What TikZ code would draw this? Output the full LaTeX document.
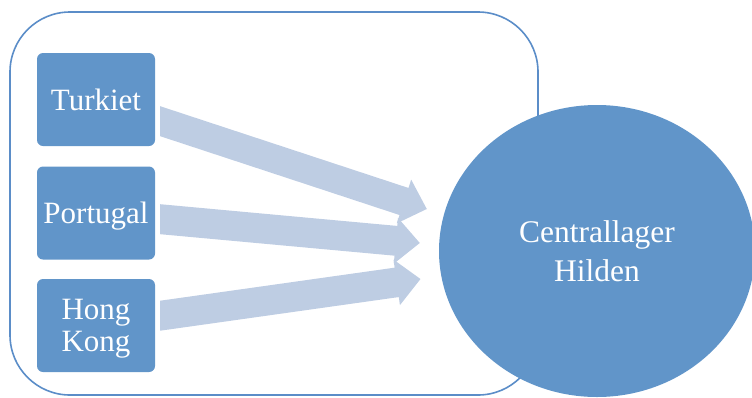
\documentclass[tikz,border=0pt]{standalone}
\usepackage{fontspec}
\setmainfont{Liberation Serif}
\usetikzlibrary{shapes.geometric,calc}

\definecolor{boxblue}{RGB}{97,149,201}
\definecolor{framecol}{RGB}{91,141,200}
\definecolor{flowcol}{RGB}{190,205,227}

\tikzset{
  source/.style={fill=boxblue, draw=none, rounded corners=6pt, text=white,
    minimum width=118pt, minimum height=93pt, inner sep=0pt, align=center,
    text depth=0pt, font=\fontsize{31}{32}\selectfont},
  hubnode/.style={ellipse, fill=boxblue, draw=none, text=white, inner sep=0pt,
    minimum width=316pt, minimum height=292pt, align=center,
    font=\fontsize{31.5}{39}\selectfont},
  frame/.style={draw=framecol, line width=1.6pt, rounded corners=60pt,
    minimum width=528pt, minimum height=383pt, inner sep=0pt},
  flow/.style={fill=flowcol, draw=none}
}

% Block arrow from a tail point (vertical cut) to a tip point
\newcommand\blockarrow[2]{%
  \path let \p1=(#1), \p2=(#2) in \pgfextra{%
    \pgfmathsetmacro\baang{atan2(\y2-\y1,\x2-\x1)}%
    \pgfmathsetmacro\balen{veclen(\x2-\x1,\y2-\y1)}%
    \xdef\baang{\baang}\xdef\balen{\balen}};
  \begin{scope}[shift={(#1)}, rotate=\baang]
    \fill[flow] ({15pt*sin(\baang)},{15pt*cos(\baang)})
      -- ({\balen pt-24pt},{15pt*cos(\baang)})
      -- ({\balen pt-24pt},23pt)
      -- (\balen pt,0pt)
      -- ({\balen pt-24pt},-23pt)
      -- ({\balen pt-24pt},{-15pt*cos(\baang)})
      -- ({-15pt*sin(\baang)},{-15pt*cos(\baang)}) -- cycle;
  \end{scope}}

\begin{document}
\begin{tikzpicture}[x=1pt, y=-1pt]
  \useasboundingbox (0,0) rectangle (752,397);

  % enclosing group
  \node[frame] (group) at (274,203.5) {};

  % origin boxes
  \node[source] (tur) at (96,99.5) {Turkiet};
  \node[source] (por) at (96,213) {Portugal};
  \node[source] (hk)  at (96,325.5) {Hong\\Kong};

  % central warehouse
  \node[hubnode] (hub) at (597,251) {Centrallager\\Hilden};

  % arrow ends
  \coordinate (t1) at ($(tur.east)+(5,21.7)$);
  \coordinate (t2) at ($(por.east)+(5,6.2)$);
  \coordinate (t3) at ($(hk.east)+(5,-9.8)$);
  \coordinate (h1) at ($(hub.west)+(-12,-42)$);
  \coordinate (h2) at ($(hub.west)+(-19,-8)$);
  \coordinate (h3) at ($(hub.west)+(-18.3,28)$);

  \blockarrow{t1}{h1}
  \blockarrow{t2}{h2}
  \blockarrow{t3}{h3}
\end{tikzpicture}
\end{document}
